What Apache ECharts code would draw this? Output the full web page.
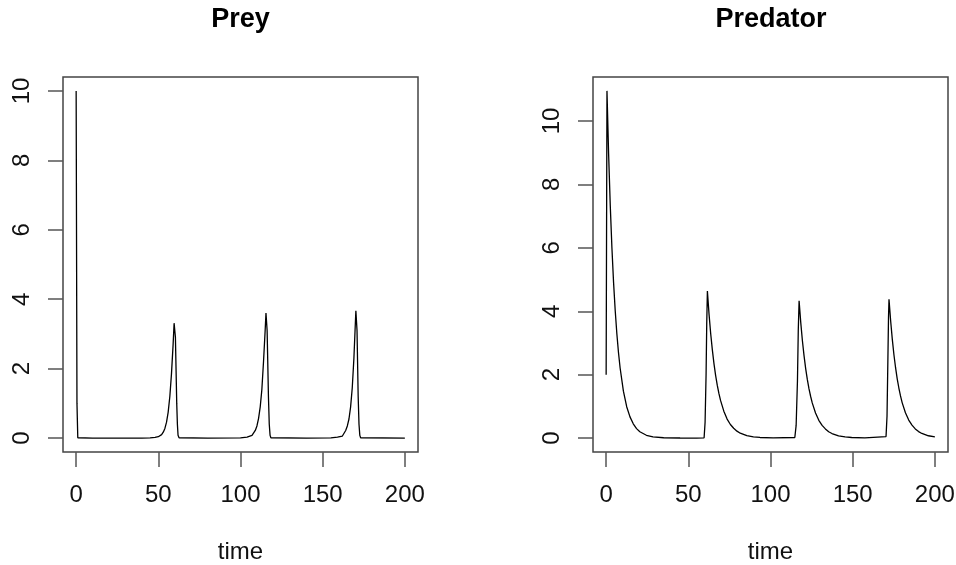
<!DOCTYPE html>
<html>
<head>
<meta charset="utf-8">
<script src="https://cdn.jsdelivr.net/npm/echarts@6/dist/echarts.min.js"></script>
<style>
html,body{margin:0;padding:0;background:#fff;}
#chart{width:956px;height:565px;}
</style>
</head>
<body>
<div id="chart"></div>
<script>
// ---- data ----
var panelTitles = ['Prey', 'Predator'];
var xName = 'time';
var xTicks = [0, 50, 100, 150, 200];
var preyTicks = [0, 2, 4, 6, 8, 10];
var predTicks = [0, 2, 4, 6, 8, 10];

var preyTime = [0,0.5,1,2,10,40,45,48,50,52,
  53,54,55,56,57,58,59,59.6,60.4,61.2,
  61.6,62,62.6,63,80,100,104,107,109,110,
  111,112,113,114,115,115.5,116.2,117,117.5,118,
  118.5,119,140,155,159,162,164,165,166,167,
  168,169,169.7,170.2,170.9,171.6,172.1,172.6,173.1,174,
  200];
var preyValue = [10,1.0,0.01,0.002,0,0.001,0.005,0.02,0.04,0.1,
  0.17,0.28,0.46,0.75,1.2,1.85,2.7,3.31,2.9,1.0,
  0.4,0.08,0.01,0.002,0,0.005,0.03,0.08,0.22,0.35,
  0.57,0.9,1.4,2.2,3.1,3.6,3.1,1.2,0.4,0.08,
  0.01,0.002,0,0.005,0.03,0.06,0.22,0.35,0.55,0.9,
  1.45,2.3,3.1,3.67,3.1,1.2,0.4,0.08,0.01,0.002,
  0];

var predTime = [0,0.5,1.5,2.5,3.5,4.5,5.5,6.5,7.5,8.5,
  10.5,12.5,14.5,16.5,18.5,20.5,24.5,28.5,35,45,
  55,
  59.6,60.2,60.8,61.2,61.6,
  62.6,63.6,64.6,65.6,66.6,67.6,68.6,69.6,
  71.6,73.6,75.6,77.6,79.6,81.6,
  85.6,89.6,93.6,101.6,
  114.8,115.6,116.4,116.9,117.4,
  118.4,119.4,120.4,121.4,122.4,123.4,124.4,125.4,
  127.4,129.4,131.4,133.4,135.4,137.4,
  141.4,145.4,149.4,157.4,
  170.3,170.9,171.4,171.8,172.1,
  173.1,174.1,175.1,176.1,177.1,178.1,179.1,180.1,
  182.1,184.1,186.1,188.1,190.1,192.1,
  196.1,200];
var predValue = [2,10.95,8.96,7.34,6.01,4.92,4.03,3.30,2.70,2.21,
  1.48,0.99,0.67,0.45,0.30,0.20,0.09,0.04,0.012,0.004,
  0.002,
  0.01,0.5,2.0,3.6,4.64,
  3.91,3.30,2.79,2.35,1.98,1.67,1.41,1.19,
  0.85,0.60,0.43,0.31,0.22,0.155,
  0.078,0.040,0.020,0.005,
  0.02,0.4,1.8,3.4,4.33,
  3.65,3.08,2.60,2.19,1.85,1.56,1.32,1.11,
  0.79,0.56,0.40,0.29,0.20,0.145,
  0.073,0.037,0.019,0.005,
  0.05,0.7,2.4,3.8,4.38,
  3.70,3.12,2.63,2.22,1.87,1.58,1.33,1.12,
  0.80,0.57,0.41,0.29,0.205,0.146,
  0.074,0.038];

// ---- build ----
function pairs(t, v) { return t.map(function (x, i) { return [x, v[i]]; }); }

var FONT = '"Liberation Sans", Arial, Helvetica, sans-serif';
var TXT = '#111';
var BOX = '#444';

function makeX(idx) {
  return {
    type: 'value', gridIndex: idx, min: -8, max: 208,
    axisLine: { show: false, onZero: false },
    splitLine: { show: false },
    axisTick: { show: true, inside: false, length: 15, customValues: xTicks,
      lineStyle: { color: '#555', width: 1.5 } },
    axisLabel: { show: true, customValues: xTicks, margin: 31, fontSize: 24,
      color: TXT, fontFamily: FONT, hideOverlap: false },
    name: xName, nameLocation: 'middle', nameGap: 88,
    nameTextStyle: { fontSize: 24, color: TXT, fontFamily: FONT }
  };
}
function makeY(idx, mn, mx, ticks) {
  return {
    type: 'value', gridIndex: idx, min: mn, max: mx,
    axisLine: { show: false, onZero: false },
    splitLine: { show: false },
    axisTick: { show: true, inside: false, length: 15, customValues: ticks,
      lineStyle: { color: '#555', width: 1.5 } },
    axisLabel: { show: true, customValues: ticks, rotate: 90, margin: 29, fontSize: 24,
      color: TXT, fontFamily: FONT, hideOverlap: false }
  };
}

var chart = echarts.init(document.getElementById('chart'), null, { renderer: 'canvas' });
chart.setOption({
  animation: false,
  backgroundColor: '#fff',
  grid: [
    { left: 63, top: 77, right: 538, bottom: 113, show: true, borderColor: BOX, borderWidth: 1.5,
      backgroundColor: 'transparent', containLabel: false, outerBoundsMode: 'none' },
    { left: 593, top: 77, right: 8, bottom: 113, show: true, borderColor: BOX, borderWidth: 1.5,
      backgroundColor: 'transparent', containLabel: false, outerBoundsMode: 'none' }
  ],
  xAxis: [makeX(0), makeX(1)],
  yAxis: [makeY(0, -0.4, 10.4, preyTicks), makeY(1, -0.438, 11.388, predTicks)],
  graphic: [
    { type: 'text', x: 240.5, y: 20, style: { text: panelTitles[0], fill: '#000',
      font: 'bold 27px ' + FONT, align: 'center', verticalAlign: 'middle',
      textAlign: 'center', textVerticalAlign: 'middle' } },
    { type: 'text', x: 771, y: 20, style: { text: panelTitles[1], fill: '#000',
      font: 'bold 27px ' + FONT, align: 'center', verticalAlign: 'middle',
      textAlign: 'center', textVerticalAlign: 'middle' } }
  ],
  series: [
    { name: panelTitles[0], type: 'line', xAxisIndex: 0, yAxisIndex: 0,
      data: pairs(preyTime, preyValue), showSymbol: false, symbol: 'none',
      lineStyle: { color: '#000', width: 1.3 } },
    { name: panelTitles[1], type: 'line', xAxisIndex: 1, yAxisIndex: 1,
      data: pairs(predTime, predValue), showSymbol: false, symbol: 'none',
      lineStyle: { color: '#000', width: 1.3 } }
  ]
});
</script>
</body>
</html>
